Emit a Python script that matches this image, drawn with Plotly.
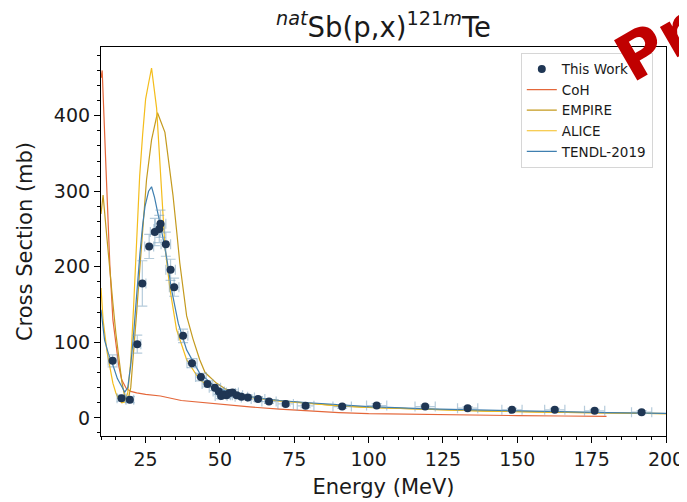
import plotly.graph_objects as go

# Experimental data (This Work)
exp_E = [13.9, 16.9, 19.7, 22.2, 23.9, 26.2, 28.1, 29.6, 30.0, 31.8, 33.4, 34.6, 37.6, 40.6,
         43.6, 45.8, 48.3, 49.6, 50.4, 51.3, 52.2, 53.2, 54.2, 55.6, 57.2, 59.4, 62.8, 66.5,
         72.1, 78.8, 91.1, 102.7, 119.0, 133.3, 148.2, 162.6, 176.0, 191.8]
exp_xs = [75.5, 26, 24, 97.6, 178, 227, 246, 250, 257, 230, 196, 173, 108.6, 72.4,
          54, 45, 40, 35, 29, 31, 30, 33, 33.5, 30, 28, 27, 25, 21.6,
          18.5, 16, 15, 16.3, 15, 12.8, 10.6, 10.6, 9.3, 7.5]
exp_dxs = [8, 4, 4, 12, 30, 16, 18, 18, 18, 16, 14, 12, 9, 6,
           5, 4, 4, 4, 3.5, 3.5, 3.5, 3.5, 3.5, 3, 3, 3, 3, 2.5,
           2.5, 2.5, 2.5, 2.5, 2, 2, 2, 2, 2, 2]
exp_dE = [1.5, 1.5, 1.3, 1.2, 1.2, 1.5, 1.5, 1.8, 1.8, 1.6, 1.6, 1.6, 1.6, 1.7,
          1.8, 1.8, 1.9, 1.9, 2.0, 2.0, 2.0, 2.0, 2.0, 2.0, 2.1, 2.2, 2.3, 2.4,
          2.6, 2.8, 3.1, 3.4, 3.4, 3.4, 3.4, 3.4, 3.4, 3.4]

# Model calculations
coh_E = [10.0, 10.4, 11.7, 13, 14, 15, 16, 17, 18, 18.5, 20, 22, 25, 30, 37, 45, 50,
         60, 70, 80, 90, 100, 115, 130, 150, 165, 180]
coh_xs = [450, 460, 328, 200, 130, 95, 68, 50, 42, 39, 35, 33, 31, 29, 23, 20, 18,
          14.5, 11.5, 9, 7, 5.5, 4.5, 3.8, 3, 2.5, 2]

empire_E = [10, 10.7, 12, 13, 14, 15, 16, 17, 18, 19, 20, 21, 22, 23, 24, 25.3, 27, 29,
            31.5, 33, 34.2, 35.5, 36.5, 38.8, 40.9, 43.2, 45, 48.8, 52, 56, 60, 70, 80,
            90, 100, 120, 140, 160, 180, 200]
empire_xs = [270, 295, 238, 190, 152, 112, 78, 48, 28, 22, 40, 85, 140, 195, 250, 315, 368, 404,
             378, 335, 295, 245, 205, 135, 105, 77, 60, 46, 38, 32, 28, 23, 19,
             16, 14, 11, 9, 7.5, 6.5, 5.5]

alice_E = [10, 10.7, 12, 13, 14, 15, 16, 17, 18, 19, 20, 21, 22, 23, 24, 25, 26, 27,
           28.7, 30.4, 31.5, 33.2, 35.4, 38.8, 43.2, 48.8, 55, 60, 70, 80, 90, 100,
           120, 140, 160, 180, 200]
alice_xs = [172, 130, 88, 64, 46, 33, 24, 20, 21, 33, 75, 150, 235, 320, 375, 422, 443, 463,
            410, 300, 227, 170, 117, 77, 50, 37, 30, 27, 22, 19, 16, 14,
            11, 9, 7.5, 6.5, 5.5]

tendl_E = [10, 11.2, 12.5, 14, 15.5, 17, 18, 19, 20, 20.8, 22, 23.1, 24, 24.8, 26, 27, 28,
           29.2, 30.5, 32, 33.7, 36, 38.8, 43.2, 47.6, 50, 55, 60, 70, 80, 90, 100,
           120, 140, 160, 180, 200]
tendl_xs = [143, 103, 85, 70, 52, 40, 34, 40, 70, 103, 165, 218, 255, 280, 300, 306, 292,
            271, 245, 214, 170, 125, 90, 59, 44, 38, 32, 28, 23, 20, 17, 15,
            12, 10, 8.5, 7, 6]

FONT = "DejaVu Sans"

# The page body adds an 8 px offset, so the figure is sized to end at the window edge.
W, H = 679, 494
ML, MR, MT, MB = 93, 21, 39, 66
PW, PH = W - ML - MR, H - MT - MB

fig = go.Figure()

models = [
    ("CoH", coh_E, coh_xs, "#e4673a", 2),
    ("EMPIRE", empire_E, empire_xs, "#c49a1e", 3),
    ("ALICE", alice_E, alice_xs, "#f4bd1c", 4),
    ("TENDL-2019", tendl_E, tendl_xs, "#3f7fb0", 5),
]
for name, xe, ys, col, rank in models:
    fig.add_trace(go.Scatter(x=xe, y=ys, mode="lines", name=name,
                             line=dict(color=col, width=1.2), legendrank=rank))

fig.add_trace(go.Scatter(
    x=exp_E, y=exp_xs, mode="markers", name="This Work", legendrank=1,
    marker=dict(color="#1f3654", size=8),
    error_y=dict(type="data", array=exp_dxs, color="rgba(120,160,190,0.55)",
                 thickness=1.2, width=5),
    error_x=dict(type="data", array=exp_dE, color="rgba(120,160,190,0.55)",
                 thickness=1.2, width=5),
))

fig.update_layout(
    width=W, height=H,
    margin=dict(l=ML, r=MR, t=MT, b=MB),
    paper_bgcolor="white", plot_bgcolor="white",
    font=dict(family=FONT, color="#1a1a1a"),
    title=dict(text="<sup><i>nat</i></sup>Sb(p,x)<sup>121<i>m</i></sup>Te",
               x=0.5, xref="paper", xanchor="center",
               y=1 - 19 / H, yref="container", yanchor="middle",
               font=dict(size=27.5, family=FONT, color="#1a1a1a")),
    showlegend=True,
    legend=dict(x=0.743, y=0.985, xanchor="left", yanchor="top",
                bgcolor="white", bordercolor="#d6d6d6", borderwidth=1,
                font=dict(size=13.5, family=FONT, color="#1a1a1a"),
                itemwidth=30),
)

fig.update_xaxes(
    range=[10, 200], dtick=25, tick0=0, automargin=False,
    showline=True, linecolor="black", linewidth=1.2, mirror=True,
    ticks="outside", ticklen=6, tickwidth=1.2, tickcolor="black",
    minor=dict(dtick=5, ticks="outside", ticklen=3, tickwidth=1, tickcolor="black"),
    showgrid=False, zeroline=False,
    tickfont=dict(size=19, family=FONT, color="#1a1a1a"),
    title=dict(text="Energy (MeV)", font=dict(size=21, family=FONT, color="#1a1a1a"),
               standoff=10),
)
fig.update_yaxes(
    range=[-24, 491], dtick=100, tick0=0, automargin=False,
    showline=True, linecolor="black", linewidth=1.2, mirror=True,
    ticks="outside", ticklen=6, tickwidth=1.2, tickcolor="black",
    minor=dict(dtick=20, ticks="outside", ticklen=3, tickwidth=1, tickcolor="black"),
    showgrid=False, zeroline=False,
    tickfont=dict(size=19, family=FONT, color="#1a1a1a"),
    title=dict(text="Cross Section (mb)", font=dict(size=21, family=FONT, color="#1a1a1a"),
               standoff=15),
)

# Watermark partially visible at top-right
fig.add_annotation(text="<b>Pr</b>", xref="paper", yref="paper",
                   x=(647 - ML) / PW, y=(H - MB - 37) / PH,
                   xanchor="center", yanchor="middle", showarrow=False,
                   textangle=-30, font=dict(size=64, family=FONT, color="#c00000"))

fig.write_html("out.html")
